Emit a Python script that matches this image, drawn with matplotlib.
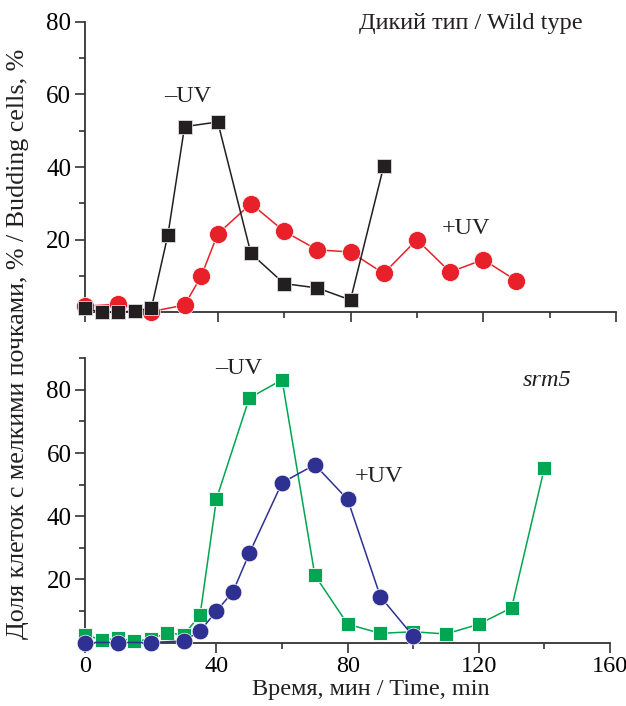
import matplotlib
matplotlib.use("Agg")
import matplotlib.pyplot as plt
from matplotlib.ticker import MultipleLocator

plt.rcParams['font.family'] = ['Liberation Serif', 'DejaVu Serif']

# Wild type
wt_minus_t = [0, 5, 10, 15, 20, 25, 30, 40, 50, 60, 70, 80, 90]
wt_minus_v = [1.1, 0.0, 0.0, 0.4, 1.1, 21.4, 51.1, 52.4, 16.2, 7.9, 6.7, 3.4, 40.2]
wt_plus_t = [0, 10, 20, 30, 35, 40, 50, 60, 70, 80, 90, 100, 110, 120, 130]
wt_plus_v = [1.7, 2.2, 0.2, 2.0, 9.9, 21.6, 29.9, 22.3, 17.2, 16.6, 10.7, 20.0, 11.1, 14.5, 8.7]

# srm5
srm_minus_t = [0, 5, 10, 15, 20, 25, 30, 35, 40, 50, 60, 70, 80, 90, 100, 110, 120, 130, 140]
srm_minus_v = [2.4, 0.8, 1.3, 0.5, 1.0, 3.1, 2.4, 8.7, 45.5, 77.4, 83.2, 21.3, 5.8, 2.9, 3.4, 2.7, 5.8, 11.0, 55.3]
srm_plus_t = [0, 10, 20, 30, 35, 40, 45, 50, 60, 70, 80, 90, 100]
srm_plus_v = [0.0, 0.0, 0.0, 0.5, 3.6, 10.0, 16.0, 28.2, 50.6, 56.3, 45.3, 14.5, 2.0]

W, H = 626, 706
fig = plt.figure(figsize=(W / 100, H / 100), dpi=100)

ax1 = fig.add_axes([85 / W, 1 - 312.3 / H, (616 - 85) / W, (312.3 - 21.7) / H])
ax2 = fig.add_axes([85.3 / W, 1 - 642.5 / H, (610 - 85.3) / W, (642.5 - 358.3) / H])

red = '#E8202A'
black = '#231F20'
green = '#00A651'
blue = '#2E3192'
fs = 17.5

ax1.plot(wt_plus_t, wt_plus_v, '-o', color=red, lw=1.1, ms=13,
         markeredgecolor='white', markeredgewidth=0.5, clip_on=False, zorder=3)
ax1.plot(wt_minus_t, wt_minus_v, '-s', color=black, lw=1.1, ms=10,
         markeredgecolor='#dddddd', markeredgewidth=0.6, clip_on=False, zorder=4)

ax2.plot(srm_minus_t, srm_minus_v, '-s', color=green, lw=1.1, ms=10.5,
         markeredgecolor='white', markeredgewidth=0.6, clip_on=False, zorder=3)
ax2.plot(srm_plus_t, srm_plus_v, '-o', color=blue, lw=1.1, ms=12,
         markeredgecolor='white', markeredgewidth=0.5, clip_on=False, zorder=4)

ax1.set_xlim(0, 160)
ax1.set_ylim(0, 80)
ax2.set_xlim(0, 160)
ax2.set_ylim(0, 90)

for ax in (ax1, ax2):
    for s in ('top', 'right'):
        ax.spines[s].set_visible(False)
    for s in ('left', 'bottom'):
        ax.spines[s].set_linewidth(1.3)
        ax.spines[s].set_color('#333333')
    ax.xaxis.set_major_locator(MultipleLocator(40))
    ax.xaxis.set_minor_locator(MultipleLocator(20))
    ax.yaxis.set_major_locator(MultipleLocator(20))
    ax.yaxis.set_minor_locator(MultipleLocator(10))
    ax.tick_params(which='major', direction='out', length=7, width=1.2,
                   color='#333333', labelsize=fs + 0.5, pad=3)
    ax.tick_params(which='minor', direction='out', length=4.5, width=1.2,
                   color='#333333')
    ax.set_facecolor('none')

ax1.set_yticks([20, 40, 60, 80])
ax1.tick_params(axis='x', labelbottom=False)
ax2.set_yticks([20, 40, 60, 80])
ax2.set_xticks([0, 40, 80, 120, 160])
ax2.tick_params(axis='x', labelsize=fs)

fig.text(471 / W, 1 - 24 / H, 'Дикий тип / Wild type', fontsize=fs,
         ha='center', va='center', color='#231F20')
fig.text(188 / W, 1 - 97 / H, '–UV', fontsize=fs, ha='center', va='center', color='#231F20')
fig.text(466 / W, 1 - 229 / H, '+UV', fontsize=fs, ha='center', va='center', color='#231F20')
fig.text(239 / W, 1 - 369 / H, '–UV', fontsize=fs, ha='center', va='center', color='#231F20')
fig.text(379 / W, 1 - 476 / H, '+UV', fontsize=fs, ha='center', va='center', color='#231F20')
fig.text(547 / W, 1 - 381 / H, 'srm5', fontsize=fs, ha='center', va='center',
         style='italic', color='#231F20')

fig.text(371 / W, 1 - 690 / H, 'Время, мин / Time, min', fontsize=fs,
         ha='center', va='center', color='#231F20')
fig.text(18 / W, 1 - 344 / H, 'Доля клеток с мелкими почками, % / Budding cells, %',
         fontsize=fs + 1.2, ha='center', va='center', rotation=90, color='#231F20')

fig.savefig('out.png', dpi=100)
